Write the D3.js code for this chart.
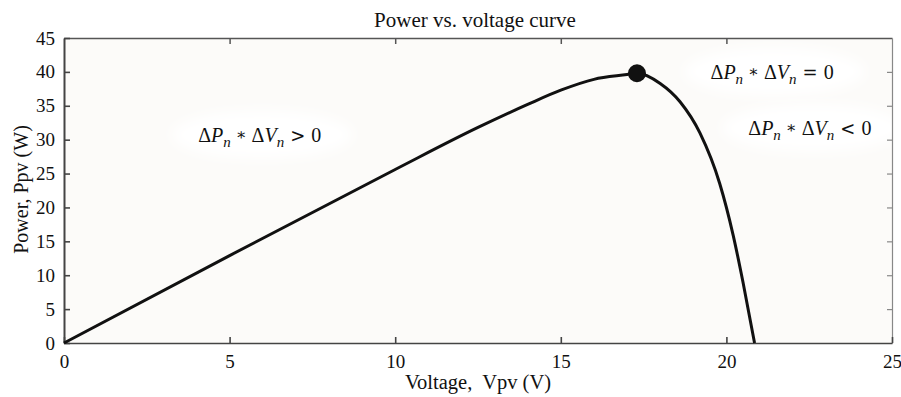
<!DOCTYPE html>
<html>
<head>
<meta charset="utf-8">
<script src="https://cdn.jsdelivr.net/npm/d3@7"></script>
<style>
  body { margin: 0; background: #fff; }
  text { font-family: "Liberation Serif", "Times New Roman", serif; fill: #111; }
  .op { font-family: "DejaVu Serif", serif; }
</style>
</head>
<body>
<div id="chart"></div>
<script>
// data
const voltage = [0, 5, 10, 12.5, 14, 15, 16, 17, 17.3, 18, 18.6, 19.2, 19.8, 20.2, 20.5, 20.85];
const power   = [0, 12.9, 25.6, 31.8, 35.2, 37.3, 38.9, 39.6, 39.8, 38.3, 35.6, 31, 23.5, 16, 9, 0];
const mpp = { v: 17.3, p: 39.8 };
const xTicks = [0, 5, 10, 15, 20, 25];
const yTicks = [0, 5, 10, 15, 20, 25, 30, 35, 40, 45];
const notes = [
  { v: 4.05, p: 29.7, op: '>' },
  { v: 19.52, p: 39.0, op: '=' },
  { v: 20.66, p: 30.7, op: '<' }
];

const width = 901, height = 397;
const margin = { top: 38, right: 9, bottom: 54, left: 64 };
const w = width - margin.left - margin.right;
const h = height - margin.top - margin.bottom;

const svg = d3.select('#chart').append('svg')
  .attr('width', width)
  .attr('height', height);

const defs = svg.append('defs');
defs.append('filter').attr('id', 'blur')
  .attr('x', '-30%').attr('y', '-60%').attr('width', '160%').attr('height', '220%')
  .append('feGaussianBlur').attr('stdDeviation', 6);

const g = svg.append('g')
  .attr('transform', `translate(${margin.left},${margin.top})`);

/* Scale */
const xScale = d3.scaleLinear().domain([0, 25]).range([0, w]);
const yScale = d3.scaleLinear().domain([0, 45]).range([h, 0]);

// plot background
g.append('rect')
  .attr('width', w).attr('height', h)
  .attr('fill', '#fcfbf9');

// white patches behind the notes
g.selectAll('.patch')
  .data(notes).enter()
  .append('ellipse')
  .attr('class', 'patch')
  .attr('cx', d => xScale(d.v) + 64)
  .attr('cy', d => yScale(d.p) - 7)
  .attr('rx', 90)
  .attr('ry', 24)
  .attr('fill', '#fff')
  .attr('filter', 'url(#blur)');

/* Axes */
const xAxis = d3.axisBottom(xScale).tickValues(xTicks).tickSizeInner(-6).tickSizeOuter(0).tickPadding(12)
  .tickFormat(d3.format('d'));
const yAxis = d3.axisLeft(yScale).tickValues(yTicks).tickSizeInner(-6).tickSizeOuter(0).tickPadding(9)
  .tickFormat(d3.format('d'));

// top and right frame with inward ticks
g.append('g')
  .attr('class', 'top')
  .call(d3.axisTop(xScale).tickValues(xTicks.slice(1, -1)).tickSize(-6).tickSizeOuter(0).tickFormat(''))
  .call(s => s.selectAll('line, path').attr('stroke', '#555').attr('stroke-width', 1.5));

g.append('g')
  .attr('class', 'right')
  .attr('transform', `translate(${w},0)`)
  .call(d3.axisRight(yScale).tickValues(yTicks.slice(1, -1)).tickSize(-5).tickSizeOuter(0).tickFormat(''))
  .call(s => s.selectAll('line, path').attr('stroke', '#888').attr('stroke-width', 1.2));

const gx = g.append('g')
  .attr('transform', `translate(0,${h})`)
  .call(xAxis);
gx.selectAll('line, path').attr('stroke', '#444').attr('stroke-width', 1.6);

const gy = g.append('g').call(yAxis);
gy.selectAll('line, path').attr('stroke', '#444').attr('stroke-width', 1.6);
gy.select('.domain').attr('stroke-width', 2);

[gx, gy].forEach(a => {
  a.attr('font-family', '"Liberation Serif", serif').attr('font-size', 19);
  a.selectAll('text').attr('fill', '#111')
    .style('font-family', '"Liberation Serif", serif');
});

/* Curve */
const line = d3.line()
  .x((d, i) => xScale(voltage[i]))
  .y(d => yScale(d))
  .curve(d3.curveMonotoneX);

g.append('path')
  .datum(power)
  .attr('fill', 'none')
  .attr('stroke', '#111')
  .attr('stroke-width', 3)
  .attr('stroke-linejoin', 'round')
  .attr('d', line);

g.append('circle')
  .attr('cx', xScale(mpp.v))
  .attr('cy', yScale(mpp.p))
  .attr('r', 9)
  .attr('fill', '#111');

/* Notes */
notes.forEach(n => {
  const t = g.append('text')
    .attr('x', xScale(n.v))
    .attr('y', yScale(n.p))
    .attr('font-size', 20)
    .attr('xml:space', 'preserve');
  t.append('tspan').text('Δ');
  t.append('tspan').attr('font-style', 'italic').text('P');
  t.append('tspan').attr('font-style', 'italic').attr('font-size', 15).attr('dy', 5).text('n');
  t.append('tspan').attr('dy', -7).attr('class', 'op').attr('font-size', 16).attr('dx', 5).text('∗');
  t.append('tspan').attr('dy', 2).attr('dx', 5).text('Δ');
  t.append('tspan').attr('font-style', 'italic').text('V');
  t.append('tspan').attr('font-style', 'italic').attr('font-size', 15).attr('dy', 5).text('n');
  t.append('tspan').attr('dy', -5).attr('dx', 6).attr('class', 'op').attr('font-size', 18).text(n.op);
  t.append('tspan').attr('dx', 6).text('0');
});

/* Labels */
svg.append('text')
  .attr('x', 475)
  .attr('y', 27)
  .attr('text-anchor', 'middle')
  .attr('font-size', 21)
  .text('Power vs. voltage curve');

svg.append('text')
  .attr('x', 478)
  .attr('y', 389)
  .attr('text-anchor', 'middle')
  .attr('font-size', 20.5)
  .attr('xml:space', 'preserve')
  .text('Voltage,  Vpv (V)');

svg.append('text')
  .attr('transform', `translate(28,${margin.top + h / 2 - 1}) rotate(-90)`)
  .attr('text-anchor', 'middle')
  .attr('font-size', 20)
  .text('Power, Ppv (W)');
</script>
</body>
</html>
